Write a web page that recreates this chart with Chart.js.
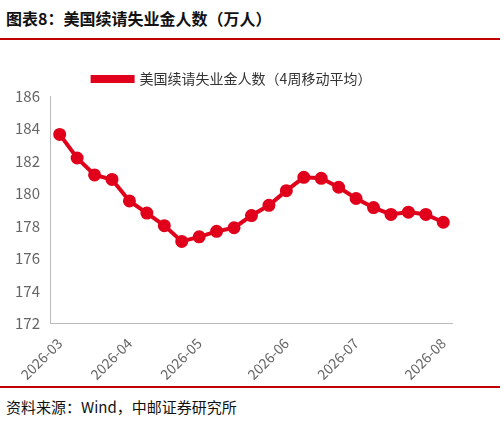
<!DOCTYPE html>
<html><head><meta charset="utf-8">
<script src="https://cdn.jsdelivr.net/npm/chart.js@4"></script>
<style>
body{margin:0;width:504px;height:423px;background:#fff;font-family:"Noto Sans CJK SC",sans-serif;position:relative;overflow:hidden}
#title{position:absolute;left:6px;top:6px;font-size:16px;font-weight:bold;color:#111}
#l1{position:absolute;left:0;top:38px;width:500px;height:2px;background:#c00000}
#l2{position:absolute;left:0;top:386px;width:500px;height:2px;background:#c00000}
#src{position:absolute;left:6px;top:396px;font-size:15px;color:#111}
#wrap{position:absolute;left:0;top:58px;width:470px;height:328px}
</style></head><body>
<div id="title">图表8：美国续请失业金人数（万人）</div>
<div id="l1"></div>
<div id="wrap"><canvas id="c"></canvas></div>
<div id="l2"></div>
<div id="src">资料来源：Wind，中邮证券研究所</div>
<script>
const weeks=["2026-03-01","2026-03-08","2026-03-15","2026-03-22","2026-03-29","2026-04-05","2026-04-12","2026-04-19","2026-04-26","2026-05-03","2026-05-10","2026-05-17","2026-05-24","2026-05-31","2026-06-07","2026-06-14","2026-06-21","2026-06-28","2026-07-05","2026-07-12","2026-07-19","2026-07-26","2026-08-02"];
const values=[183.64,182.19,181.15,180.87,179.55,178.8,178.03,177.06,177.34,177.68,177.9,178.65,179.28,180.18,181.0,180.94,180.39,179.7,179.14,178.72,178.86,178.72,178.24];
const tickMap={0:"2026-03",4:"2026-04",8:"2026-05",13:"2026-06",17:"2026-07",22:"2026-08"};
const seriesName="美国续请失业金人数（4周移动平均）";
new Chart(document.getElementById('c'),{type:'line',
data:{labels:weeks,datasets:[{label:seriesName,data:values,borderColor:'#e0001b',backgroundColor:'#e0001b',borderWidth:4,pointRadius:4.5,pointHoverRadius:4.5,tension:0}]},
options:{responsive:true,maintainAspectRatio:false,animation:false,
layout:{padding:{left:12,right:18,top:0,bottom:0}},
plugins:{legend:{labels:{font:{size:14,family:"Noto Sans CJK SC"},color:'#333',boxWidth:40,boxHeight:4,padding:14}},tooltip:{enabled:false}},
scales:{
x:{offset:true,grid:{display:false,drawTicks:true},border:{color:'#bbb'},
 ticks:{autoSkip:false,maxRotation:45,minRotation:45,color:'#666',font:{size:14,family:"Noto Sans CJK SC"},callback:(v,i)=>tickMap[i]||''}},
y:{min:172,max:186,ticks:{stepSize:2,color:'#666',font:{size:15,family:"Noto Sans CJK SC"}},grid:{display:false},border:{color:'#bbb'}}
}}});
</script></body></html>
